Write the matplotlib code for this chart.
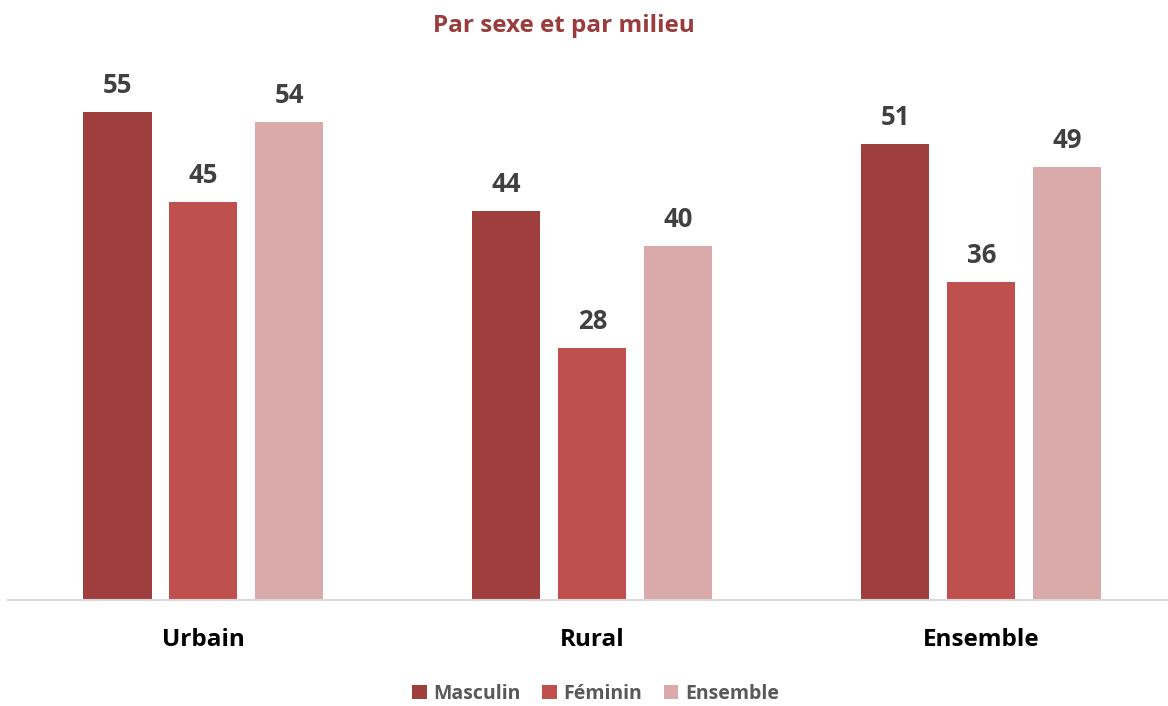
import numpy as np
from matplotlib import pyplot as plt

categories = ['Urbain', 'Rural', 'Ensemble']
masculin = [55.0, 43.9, 51.4]
feminin = [44.9, 28.4, 35.9]
ensemble = [53.9, 39.9, 48.8]
series_names = ['Masculin', 'Féminin', 'Ensemble']
colors = ['#9E3F3E', '#C0504E', '#DAA9A9']

plt.rcParams['font.family'] = ['Open Sans', 'DejaVu Sans']

fig = plt.figure(figsize=(11.68, 7.06), dpi=100)
ax = fig.add_axes([0.007, 0.150, 0.993, 0.7535])

x = np.arange(len(categories))
width = 0.175
pitch = 0.221
for i, (vals, name, c) in enumerate(zip([masculin, feminin, ensemble], series_names, colors)):
    bars = ax.bar(x + (i - 1) * pitch, vals, width, color=c, label=name)
    for b, v in zip(bars, vals):
        ax.text(b.get_x() + b.get_width() / 2, v + 2.15, f'{v:.0f}', ha='center', va='baseline',
                fontsize=18.5, fontweight='bold', color='#404040')

ax.set_xlim(-0.502, 2.48)
ax.set_ylim(0, 60)
ax.set_yticks([])
ax.set_xticks(x)
ax.set_xticklabels(categories, fontsize=17.5, fontweight='bold', color='black')
ax.tick_params(axis='x', length=0, pad=20)
for s in ['top', 'right', 'left']:
    ax.spines[s].set_visible(False)
ax.spines['bottom'].set_color('#D9D9D9')
ax.spines['bottom'].set_linewidth(1.5)

fig.text(0.483, 0.963, 'Par sexe et par milieu', ha='center', va='center',
         fontsize=17.5, fontweight='bold', color='#9B3B3B')

leg = fig.legend(loc='center', bbox_to_anchor=(0.51, 0.017), ncol=3, frameon=False,
                 prop={'size': 14, 'weight': 'bold'}, handlelength=0.75, handleheight=0.75,
                 handletextpad=0.35, columnspacing=1.1)
for t in leg.get_texts():
    t.set_color('#595959')

fig.savefig('out.png')
